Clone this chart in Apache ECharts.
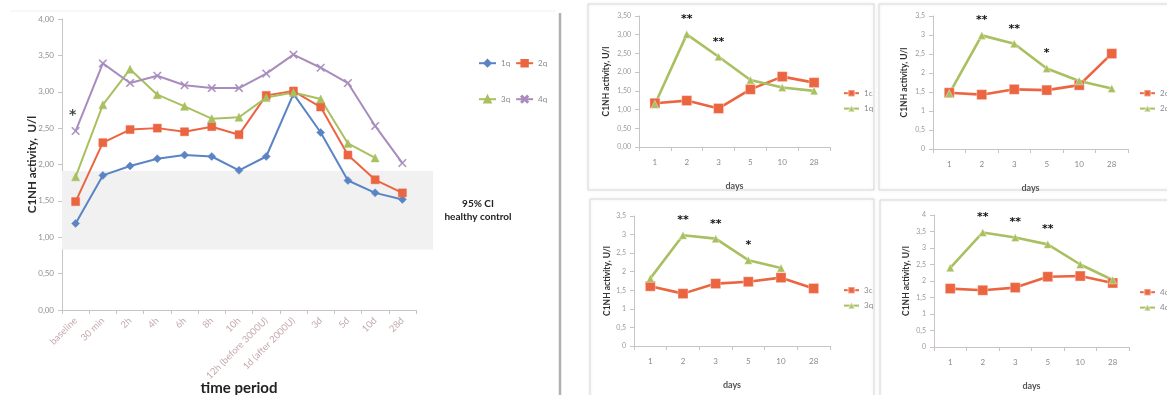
<!DOCTYPE html>
<html><head><meta charset="utf-8">
<script src="https://cdn.jsdelivr.net/npm/echarts@6/dist/echarts.min.js"></script>
<style>html,body{margin:0;padding:0;background:#fff}#c{width:1167px;height:395px}</style>
</head><body><div id="c"></div>
<script>
// ---- Main chart data ----
const timeCats = ['baseline','30 min','2h','4h','6h','8h','10h','12h (before 3000U)','1d (after 2000U)','3d','5d','10d','28d'];
const q1 = [1.19,1.85,1.98,2.08,2.13,2.11,1.92,2.11,2.97,2.44,1.78,1.61,1.52];
const q2 = [1.49,2.30,2.48,2.50,2.45,2.52,2.41,2.95,3.01,2.79,2.13,1.79,1.61];
const q3 = [1.83,2.82,3.31,2.96,2.80,2.63,2.65,2.92,2.99,2.90,2.29,2.09,null];
const q4 = [2.46,3.39,3.12,3.22,3.09,3.05,3.05,3.25,3.51,3.33,3.12,2.53,2.02];
const mainStar = [['baseline', 2.71, '*']];
const bandCI = [0.83, 1.91];

// ---- Small panels data ----
const days = ['1','2','3','5','10','28'];
const c1s = [1.17,1.24,1.03,1.54,1.88,1.72];
const q1s = [1.14,3.01,2.41,1.79,1.59,1.50];
const star1 = ['','**','**','','',''];
const c2s = [1.48,1.43,1.57,1.55,1.68,2.51];
const q2s = [1.46,2.99,2.77,2.12,1.79,1.59];
const star2 = ['','**','**','*','',''];
const c3s = [1.61,1.41,1.68,1.73,1.84,1.55];
const q3s = [1.82,2.98,2.89,2.31,2.10,null];
const star3 = ['','**','**','*','',''];
const c4s = [1.77,1.72,1.80,2.13,2.15,1.94];
const q4s = [2.40,3.47,3.32,3.11,2.50,2.03];
const star4 = ['','**','**','**','',''];

const FONT = 'Lato, "Open Sans", sans-serif';
const BLUE = '#5b84c4', ORANGE = '#ec6541', GREEN = '#a9c060', PURPLE = '#a88cbd';
const XPATH = 'path://M0,1 L1,0 L5,4 L9,0 L10,1 L6,5 L10,9 L9,10 L5,6 L1,10 L0,9 L4,5 Z';

const chart = echarts.init(document.getElementById('c'), null, {renderer:'canvas'});

const G = (o) => Object.assign({outerBoundsMode:'none', containLabel:false}, o);
const grids = [
  G({left:62, top:19, width:354, height:291}),   // 0 main
  G({left:62, top:19, width:371, height:291}),   // 1 band
  G({left:639, top:16, width:191, height:131}),  // 2 P1
  G({left:933, top:16, width:195, height:133}),  // 3 P2
  G({left:634, top:216, width:196, height:130}), // 4 P3
  G({left:934, top:215, width:195, height:132})  // 5 P4
];

const axLine = {lineStyle:{color:'#c9c3c3', width:1}};
const axTick = {show:true, length:4, lineStyle:{color:'#c9c3c3'}};
const comma2 = v => v.toFixed(2).replace('.', ',');
const comma = v => String(v).replace('.', ',');

function smallX(gi){
  return {type:'category', gridIndex:gi, data:days, boundaryGap:true,
    axisLine:axLine, axisTick:{show:true, length:4, lineStyle:{color:'#c9c3c3'}},
    axisLabel:{color:'#8a8a8a', fontSize:8, fontFamily:FONT, margin:11},
    name:'days', nameLocation:'middle', nameGap:35, nameMoveOverlap:false,
    nameTextStyle:{color:'#555', fontSize:9, fontWeight:'bold', fontFamily:FONT}};
}
function smallY(gi, max, fmt, gap){
  return {type:'value', gridIndex:gi, min:0, max:max, interval:0.5,
    splitLine:{show:false}, axisLine:{show:true, ...axLine}, axisTick:axTick,
    axisLabel:{color:'#9a9a9a', fontSize:7, fontFamily:FONT, formatter:fmt, margin:8},
    name:'C1NH activity, U/l', nameLocation:'middle', nameGap:gap, nameRotate:90, nameMoveOverlap:false,
    nameTextStyle:{color:'#333', fontSize:8.5, fontWeight:'bold', fontFamily:FONT}};
}

const xAxes = [
  {type:'category', gridIndex:0, data:timeCats, boundaryGap:true,
   axisLine:axLine, axisTick:{show:true, length:4, lineStyle:{color:'#c9c3c3'}},
   axisLabel:{color:'#c4abab', fontSize:9.5, fontFamily:FONT, rotate:45, margin:9, interval:0},
   name:'time period', nameLocation:'middle', nameGap:71, nameMoveOverlap:false,
   nameTextStyle:{color:'#222', fontSize:15, fontWeight:'bold', fontFamily:FONT}},
  {type:'value', gridIndex:1, min:0, max:1, show:false},
  smallX(2), smallX(3), smallX(4), smallX(5)
];
const yAxes = [
  {type:'value', gridIndex:0, min:0, max:4, interval:0.5,
   splitLine:{show:false}, axisLine:{show:true, ...axLine}, axisTick:axTick,
   axisLabel:{color:'#8f8f8f', fontSize:8, fontFamily:FONT, formatter:comma2, margin:8},
   name:'C1NH activity,  U/l', nameLocation:'middle', nameGap:24, nameRotate:90, nameMoveOverlap:false,
   nameTextStyle:{color:'#2a2a2a', fontSize:11.5, fontWeight:'bold', fontFamily:FONT}},
  {type:'value', gridIndex:1, min:0, max:4, show:false},
  smallY(2, 3.5, comma2, 28),
  smallY(3, 3.5, comma, 24),
  smallY(4, 3.5, comma, 22),
  smallY(5, 4, comma, 23)
];

function mainLine(name, data, color, symbol, size){
  return {name, type:'line', xAxisIndex:0, yAxisIndex:0, data, color,
    symbol, symbolSize:size, showSymbol:true, z:5,
    lineStyle:{width:2, color}, itemStyle:{color, borderColor:color, borderWidth:0.5}};
}
function smallLine(name, data, color, symbol, size, gi, stars){
  const s = {name, type:'line', xAxisIndex:gi, yAxisIndex:gi, data, color,
    symbol, symbolSize:size, z:5,
    lineStyle:{width:2.6, color}, itemStyle:{color, borderColor:'rgba(255,255,255,0.35)', borderWidth:1}};
  if (stars){
    s.label = {show:true, position:'top', distance:5, color:'#111', fontSize:11, fontWeight:'bold',
      fontFamily:'"DejaVu Sans", sans-serif', formatter:p => stars[p.dataIndex]};
  }
  return s;
}

const series = [
  {type:'line', xAxisIndex:1, yAxisIndex:1, data:[], silent:true, z:1,
   markArea:{silent:true, itemStyle:{color:'#f1f1f1'},
     data:[[{xAxis:0, yAxis:bandCI[0]},{xAxis:1, yAxis:bandCI[1]}]]}},
  mainLine('1q', q1, BLUE, 'diamond', 8),
  mainLine('2q', q2, ORANGE, 'rect', 8),
  mainLine('3q', q3, GREEN, 'triangle', 8),
  mainLine('4q', q4, PURPLE, XPATH, 8),
  {type:'scatter', xAxisIndex:0, yAxisIndex:0, data:mainStar, symbolSize:0, z:6,
   label:{show:true, position:'inside', offset:[-3,3], color:'#111', fontSize:14, fontWeight:'bold',
     fontFamily:'"DejaVu Sans", sans-serif', formatter:p => p.data[2]}},
  smallLine('1c', c1s, ORANGE, 'rect', 10, 2),
  smallLine('1q ', q1s, GREEN, 'triangle', 8, 2, star1),
  smallLine('2c', c2s, ORANGE, 'rect', 10, 3),
  smallLine('2q ', q2s, GREEN, 'triangle', 8, 3, star2),
  smallLine('3c', c3s, ORANGE, 'rect', 10, 4),
  smallLine('3q ', q3s, GREEN, 'triangle', 8, 4, star3),
  smallLine('4c', c4s, ORANGE, 'rect', 10, 5),
  smallLine('4q ', q4s, GREEN, 'triangle', 8, 5, star4)
];

const legStyle = {color:'#8a8a8a', fontSize:8, fontFamily:FONT};
function smallLegend(names, left, top){
  return {data:names, left, top, orient:'vertical', itemWidth:15, itemHeight:8, itemGap:7,
    padding:0, textStyle:legStyle, selectedMode:false, formatter:n => n.trim()};
}
const legends = [
  {data:['1q','2q'], left:478, top:59, orient:'horizontal', itemWidth:17, itemHeight:8, itemGap:5,
   padding:0, textStyle:legStyle, selectedMode:false},
  {data:['3q','4q'], left:478, top:95, orient:'horizontal', itemWidth:17, itemHeight:8, itemGap:5,
   padding:0, textStyle:legStyle, selectedMode:false},
  smallLegend(['1c','1q '], 843, 89),
  smallLegend(['2c','2q '], 1139, 89),
  smallLegend(['3c','3q '], 843, 286),
  smallLegend(['4c','4q '], 1139, 288)
];

const boxStyle = {fill:'none', stroke:'#d9d9d9', lineWidth:1, shadowBlur:3, shadowColor:'rgba(0,0,0,0.12)'};
const graphic = [
  {type:'text', x:478, y:199, style:{text:'95% CI', fill:'#222', fontSize:10,
    fontWeight:'bold', fontFamily:FONT, align:'center'}},
  {type:'text', x:478, y:212, style:{text:'healthy control', fill:'#222', fontSize:10,
    fontWeight:'bold', fontFamily:FONT, align:'center'}},
  {type:'line', shape:{x1:560, y1:13, x2:560, y2:395}, style:{stroke:'#b0b0b0', lineWidth:2.5}},
  {type:'line', shape:{x1:10, y1:11, x2:555, y2:11}, style:{stroke:'#f0f0f0', lineWidth:1}},
  {type:'rect', shape:{x:588, y:4, width:286, height:186}, style:boxStyle, z:-1},
  {type:'rect', shape:{x:879, y:4, width:300, height:186}, style:boxStyle, z:-1},
  {type:'rect', shape:{x:590, y:199, width:284, height:200}, style:boxStyle, z:-1},
  {type:'rect', shape:{x:880, y:200, width:300, height:200}, style:boxStyle, z:-1}
];

chart.setOption({
  animation:false,
  backgroundColor:'#fff',
  textStyle:{fontFamily:FONT},
  grid:grids, xAxis:xAxes, yAxis:yAxes, series, legend:legends, graphic
});
</script></body></html>
